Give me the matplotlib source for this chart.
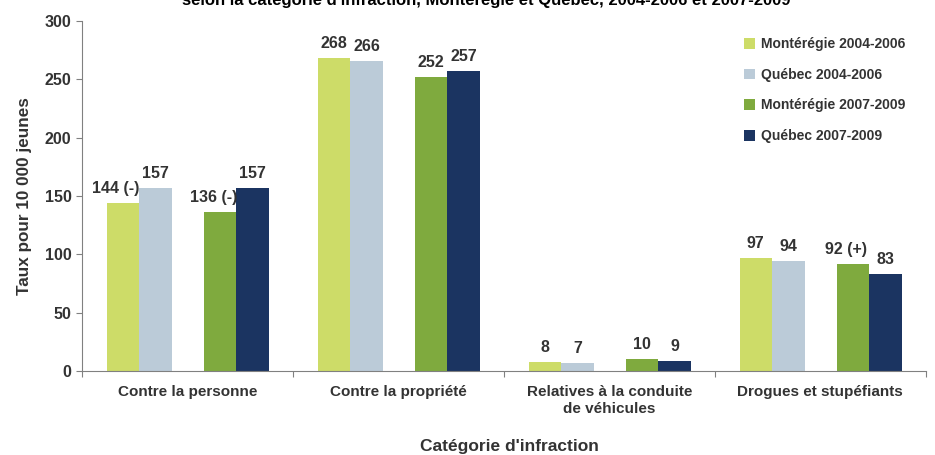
import matplotlib.pyplot as plt
import numpy as np

categories = ["Contre la personne", "Contre la propriété",
              "Relatives à la conduite\nde véhicules", "Drogues et stupéfiants"]
series = ["Montérégie 2004-2006", "Québec 2004-2006",
          "Montérégie 2007-2009", "Québec 2007-2009"]
values = [
    [144, 268, 8, 97],
    [157, 266, 7, 94],
    [136, 252, 10, 92],
    [157, 257, 9, 83],
]
labels = [
    ["144 (-)", "268", "8", "97"],
    ["157", "266", "7", "94"],
    ["136 (-)", "252", "10", "92 (+)"],
    ["157", "257", "9", "83"],
]
colors = ["#CDDC68", "#BBCBD8", "#7FAA3E", "#1B3461"]
offsets = [-0.305, -0.15, 0.155, 0.31]
width = 0.155
txt = "#333333"

plt.rcParams["font.family"] = ["Liberation Sans", "DejaVu Sans"]
plt.rcParams["font.weight"] = "bold"

fig = plt.figure(figsize=(9.35, 4.55), dpi=100)
ax = fig.add_axes([0.0877, 0.1846, 0.9023, 0.7692])

x = np.arange(len(categories)) + 0.5
for i in range(4):
    bars = ax.bar(x + offsets[i], values[i], width, color=colors[i], label=series[i])
    for b, lab in zip(bars, labels[i]):
        dx = -5 if "(" in lab else 0
        ax.annotate(lab, (b.get_x() + b.get_width() / 2, b.get_height()),
                    xytext=(dx, 5), textcoords="offset points",
                    ha="center", va="bottom", fontsize=11.5, fontweight="bold", color=txt)

ax.set_xlim(0, 4)
ax.set_ylim(0, 300)
ax.set_yticks(range(0, 301, 50))
ax.tick_params(axis="y", labelsize=11.5, colors="#808080", labelcolor=txt, length=4)
ax.set_xticks(range(0, 5))
ax.set_xticklabels([])
ax.tick_params(axis="x", length=4, colors="#808080")
for xi, c in zip(x, categories):
    ax.text(xi, -12, c, ha="center", va="top", fontsize=11, fontweight="bold",
            color=txt, transform=ax.transData, linespacing=1.25)

for s in ["top", "right"]:
    ax.spines[s].set_visible(False)
for s in ["left", "bottom"]:
    ax.spines[s].set_color("#808080")

ax.set_ylabel("Taux pour 10 000 jeunes", fontsize=12.3, fontweight="bold", color=txt, labelpad=9)
fig.text(0.545, 0.003, "Catégorie d'infraction", ha="center", va="bottom",
         fontsize=12.5, fontweight="bold", color=txt)
# title is clipped by the top edge, as in the source image
fig.text(0.52, 1.0, "selon la catégorie d'infraction, Montérégie et Québec, 2004-2006 et 2007-2009",
         ha="center", va="center", fontsize=12, fontweight="bold", color="black")

ax.legend(loc="upper left", bbox_to_anchor=(0.77, 0.99), frameon=False, fontsize=10,
          handlelength=0.8, handleheight=0.8, handletextpad=0.4, labelspacing=1.2,
          labelcolor=txt)

fig.savefig("out.png", dpi=100)
